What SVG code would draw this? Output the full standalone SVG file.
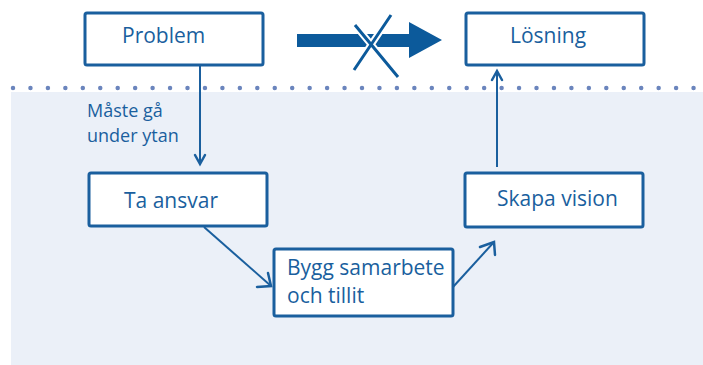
<svg xmlns="http://www.w3.org/2000/svg" width="703" height="365" viewBox="0 0 703 365">
<style>
.box{fill:#fff;stroke:#1a5f9e;stroke-width:3}
.t{font-family:"Open Sans","Noto Sans",sans-serif;font-size:21px;fill:#1a5f9e}
.s{font-family:"Open Sans","Noto Sans",sans-serif;font-size:18px;fill:#1a5f9e}
.c{fill:none;stroke:#1a5f9e;stroke-width:2}
.h{fill:none;stroke:#1a5f9e;stroke-width:2.5;stroke-linecap:round;stroke-linejoin:miter}
</style>
<rect x="0" y="0" width="703" height="365" fill="#fff"/>
<rect x="11" y="92" width="692" height="273" fill="#ebf0f8"/>
<line x1="13" y1="88" x2="703" y2="88" stroke="#6b85bd" stroke-width="4.5" stroke-linecap="round" stroke-dasharray="0 17.45"/>
<g id="connectors">
<path class="c" d="M200 65V164"/>
<path class="h" d="M195 155L200 164L205 155"/>
<path class="c" d="M497 167V71"/>
<path class="h" d="M492 80L497 71L502 80"/>
<path class="c" d="M204 227L271 286"/>
<path class="h" d="M257 287L271 286L268 273"/>
<path class="c" d="M453 287L494 242"/>
<path class="h" d="M480 247L494 242L495 255"/>
<g id="blocked-arrow">
<path d="M297 34H409V22L442 40L409 58V47H297Z" fill="#0c5a9b"/>
<path d="M355 25L398 77M391 15L354 70" stroke="#fff" stroke-width="7"/>
<path d="M355 25L398 77M391 15L354 70" stroke="#0c5a9b" stroke-width="3"/>
</g>
</g>
<g id="problem"><rect class="box" x="85" y="13" width="178" height="52" rx="2"/><text class="t" x="122" y="43">Problem</text></g>
<g id="losning"><rect class="box" x="466" y="13" width="178" height="52" rx="2"/><text class="t" x="510" y="43">Lösning</text></g>
<g id="label"><text class="s" x="87" y="117">Måste gå</text><text class="s" x="87" y="142">under ytan</text></g>
<g id="ta-ansvar"><rect class="box" x="89" y="173" width="178" height="53" rx="2"/><text class="t" x="124" y="208">Ta ansvar</text></g>
<g id="skapa-vision"><rect class="box" x="465" y="173" width="178" height="54" rx="2"/><text class="t" x="497" y="206">Skapa vision</text></g>
<g id="bygg"><rect class="box" x="274" y="249" width="179" height="67" rx="2"/><text class="t" x="287" y="275">Bygg samarbete</text><text class="t" x="287" y="303">och tillit</text></g>
</svg>
